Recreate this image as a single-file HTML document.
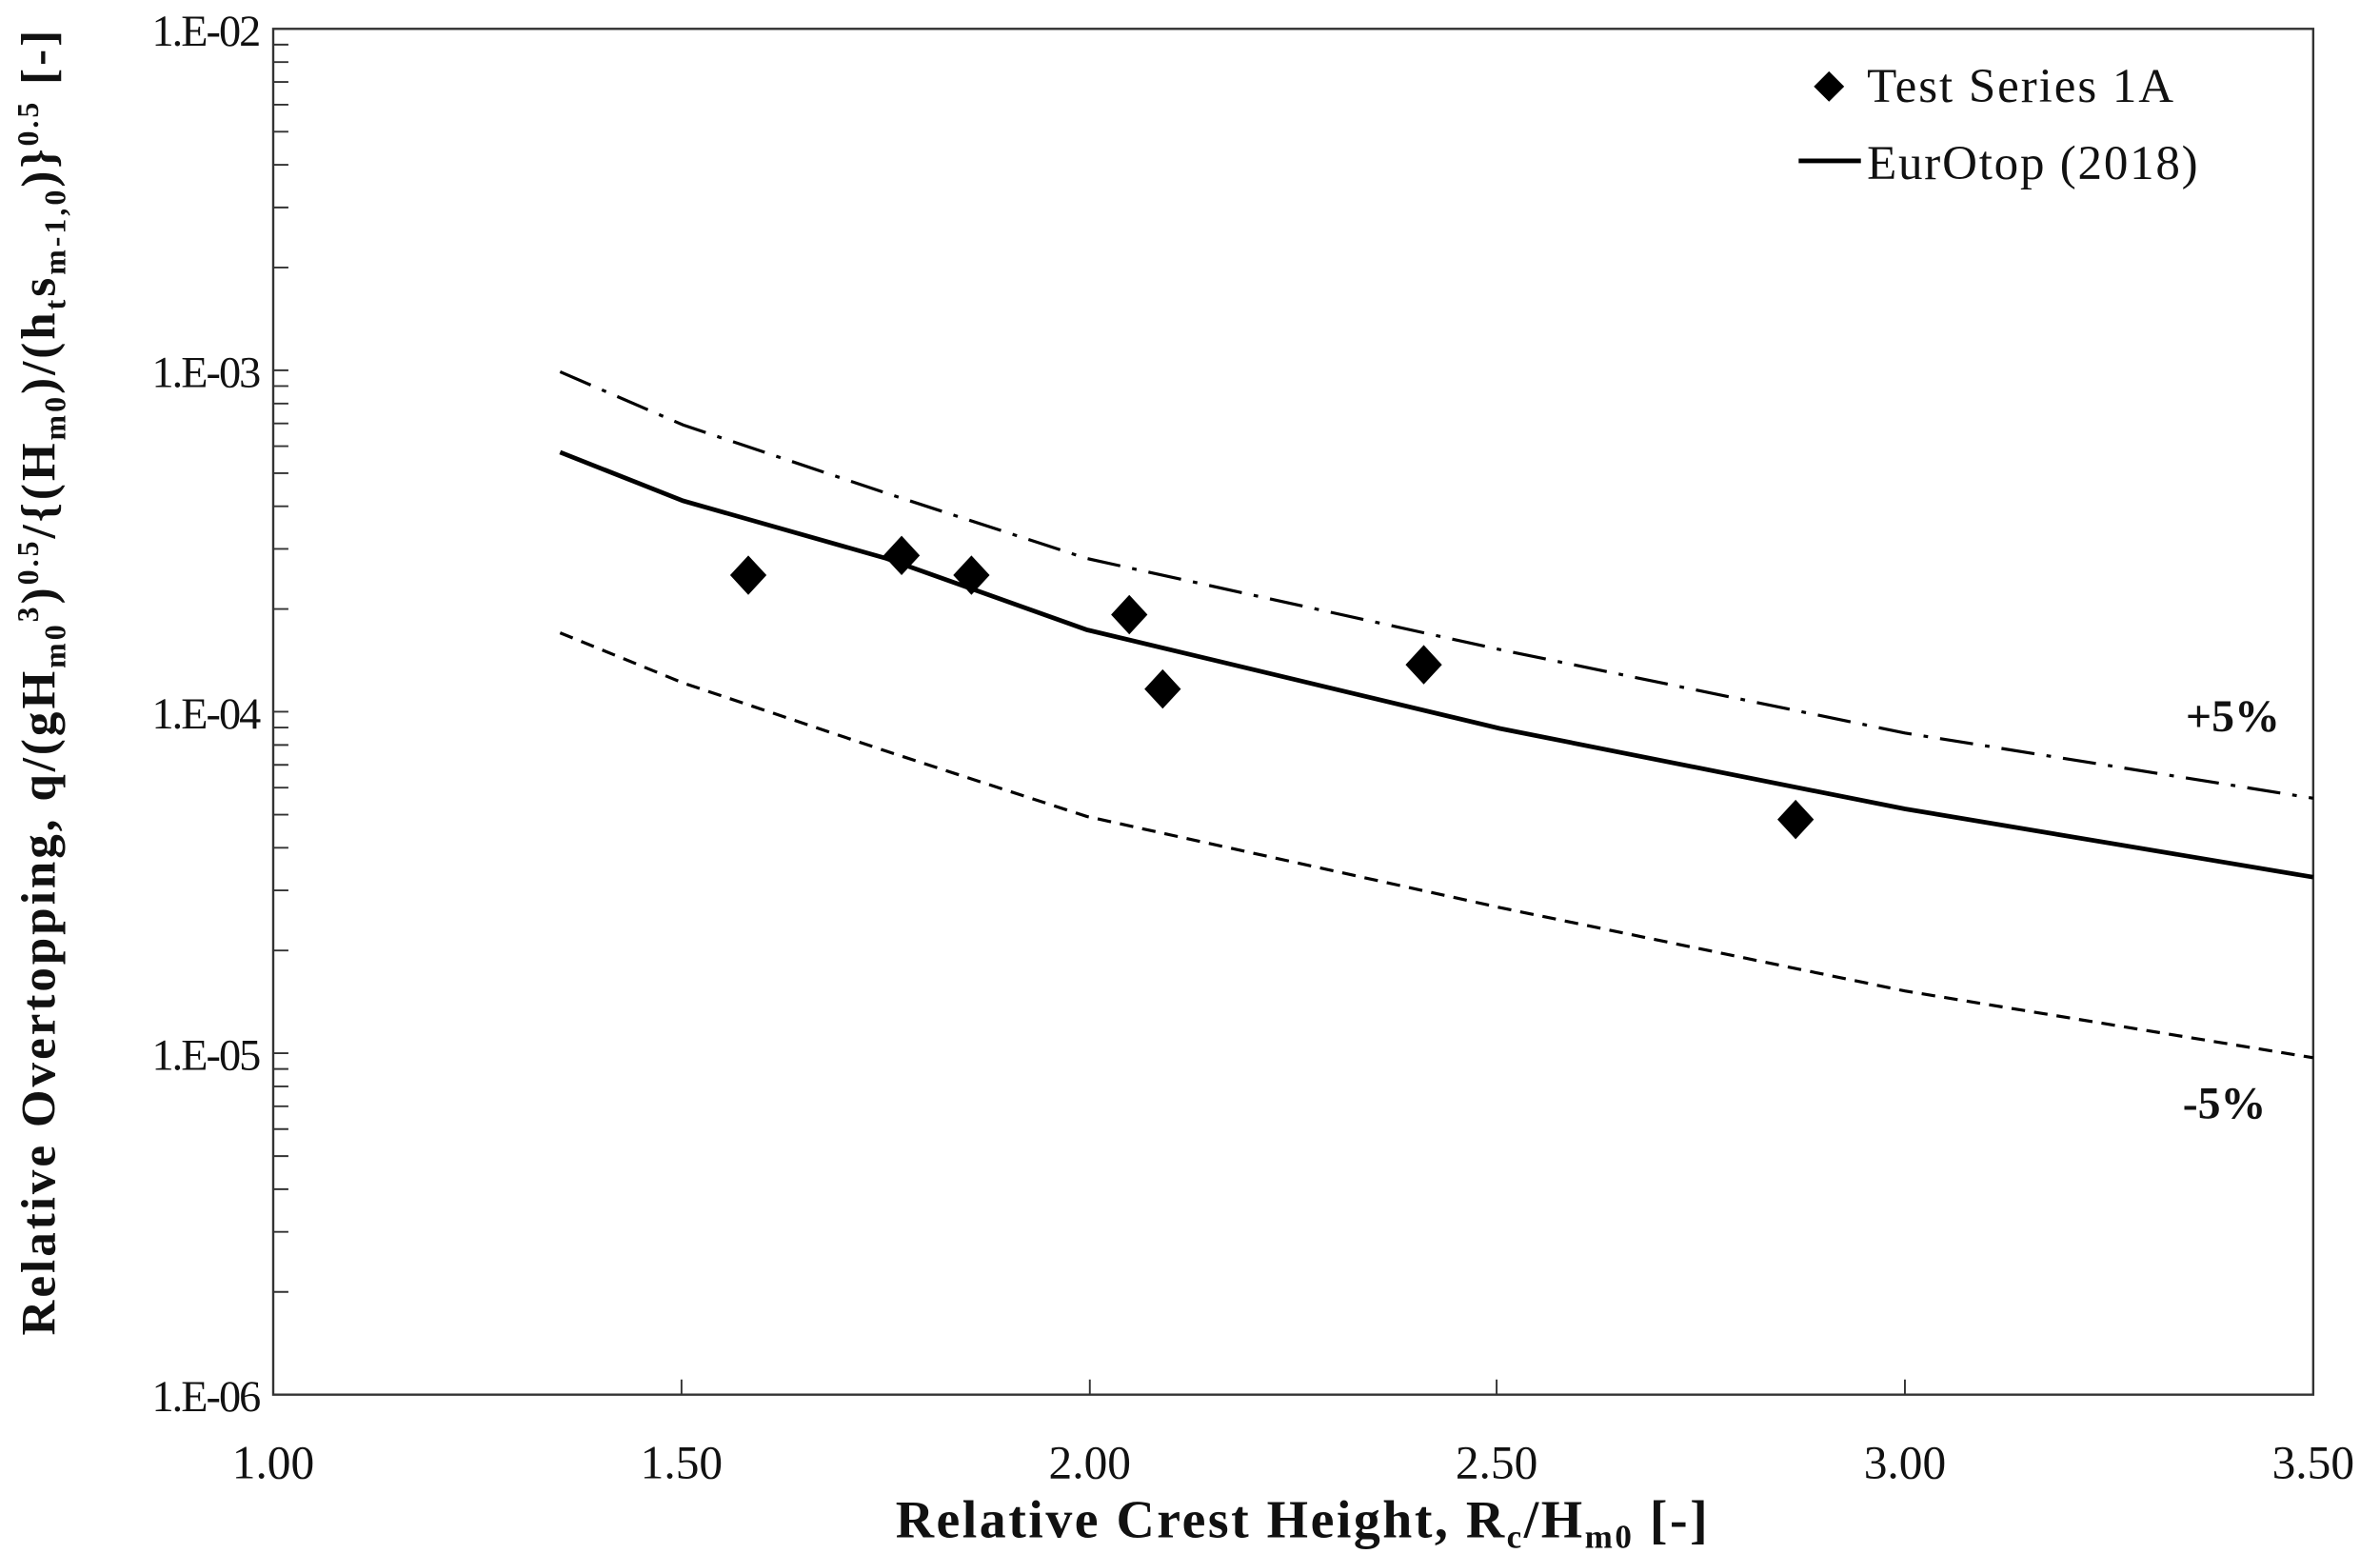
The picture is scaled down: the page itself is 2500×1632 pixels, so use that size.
<!DOCTYPE html>
<html><head><meta charset="utf-8"><style>html,body{margin:0;padding:0;background:#fff}svg{display:block}</style></head>
<body>
<svg width="2500" height="1632" viewBox="0 0 1568 1024" preserveAspectRatio="none" xmlns="http://www.w3.org/2000/svg" font-family="Liberation Serif, serif">
<rect x="0" y="0" width="1568" height="1024" fill="#fff"/>
<rect x="180" y="19" width="1344" height="900" fill="none" stroke="#333" stroke-width="1.5"/>
<g font-size="29" fill="#111" text-anchor="end">
<text x="172" y="30" textLength="72">1.E-02</text>
<text x="172" y="255" textLength="72">1.E-03</text>
<text x="172" y="480" textLength="72">1.E-04</text>
<text x="172" y="705" textLength="72">1.E-05</text>
<text x="172" y="930" textLength="72">1.E-06</text>
</g>
<g font-size="31" fill="#111" text-anchor="middle">
<text x="180" y="974">1.00</text>
<text x="449" y="974">1.50</text>
<text x="718" y="974">2.00</text>
<text x="986" y="974">2.50</text>
<text x="1255" y="974">3.00</text>
<text x="1524" y="974">3.50</text>
</g>
<text x="590" y="1013" font-size="35" font-weight="bold" fill="#111" textLength="535">Relative Crest Height, R<tspan font-size="22" dy="7">c</tspan><tspan dy="-7">/H</tspan><tspan font-size="22" dy="7">m0</tspan><tspan dy="-7">  [-]</tspan></text>
<text transform="translate(36,880) rotate(-90)" font-size="32" font-weight="bold" fill="#111" textLength="860">Relative Overtopping, q/(gH<tspan font-size="20" dy="7">m0</tspan><tspan font-size="20" dy="-18">3</tspan><tspan dy="11">)</tspan><tspan font-size="20" dy="-11">0.5</tspan><tspan dy="11">/{(H</tspan><tspan font-size="20" dy="7">m0</tspan><tspan dy="-7">)/(h</tspan><tspan font-size="20" dy="7">t</tspan><tspan dy="-7">s</tspan><tspan font-size="20" dy="7">m-1,0</tspan><tspan dy="-7">)}</tspan><tspan font-size="20" dy="-11">0.5</tspan><tspan dy="11"> [-]</tspan></text>
<polyline fill="none" stroke="#000" stroke-width="3" points="369,298 450,330 584,368 716,415 988,480 1255,533 1524,578"/>
<polyline fill="none" stroke="#000" stroke-width="2" stroke-dasharray="22,8,3,8" points="369,245 450,280 584,325 716,368 988,428 1255,483 1524,526"/>
<polyline fill="none" stroke="#000" stroke-width="2" stroke-dasharray="9,6" points="369,417 450,450 584,495 716,538 988,598 1255,653 1524,697"/>
<g fill="#000">
<path d="M493 366l12 13-12 13-12-13z"/>
<path d="M594 353l12 13-12 13-12-13z"/>
<path d="M640 366l12 13-12 13-12-13z"/>
<path d="M744 392l12 13-12 13-12-13z"/>
<path d="M766 441l12 13-12 13-12-13z"/>
<path d="M938 425l12 13-12 13-12-13z"/>
<path d="M1183 527l12 13-12 13-12-13z"/>
<path d="M1205 47l10 10-10 10-10-10z"/>
</g>
<text x="1230" y="67" font-size="32" fill="#111" textLength="202">Test Series 1A</text>
<line x1="1185" y1="106" x2="1226" y2="106" stroke="#000" stroke-width="3"/>
<text x="1230" y="118" font-size="32" fill="#111" textLength="218">EurOtop (2018)</text>
<text x="1440" y="482" font-size="30" font-weight="bold" fill="#111">+5%</text>
<text x="1438" y="737" font-size="30" font-weight="bold" fill="#111">-5%</text>
<g stroke="#333" stroke-width="1.2">
<path d="M180 244.0h10M180 176.3h10M180 136.7h10M180 108.6h10M180 86.8h10M180 69.0h10M180 54.0h10M180 40.9h10M180 29.4h10"/>
<path d="M180 469.0h10M180 401.3h10M180 361.7h10M180 333.6h10M180 311.8h10M180 294.0h10M180 279.0h10M180 265.9h10M180 254.4h10"/>
<path d="M180 694.0h10M180 626.3h10M180 586.7h10M180 558.6h10M180 536.8h10M180 519.0h10M180 504.0h10M180 490.9h10M180 479.4h10"/>
<path d="M180 851.3h10M180 811.7h10M180 783.6h10M180 761.8h10M180 744.0h10M180 729.0h10M180 715.9h10M180 704.4h10"/>
<path d="M449 919v-10M718 919v-10M986 919v-10M1255 919v-10"/>
</g>
</svg>
</body></html>
